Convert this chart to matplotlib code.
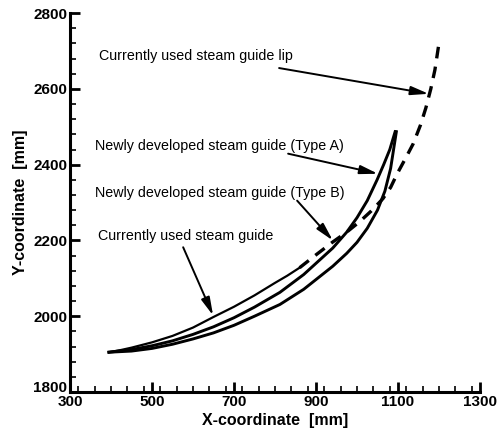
import matplotlib
matplotlib.use("Agg")
import matplotlib.pyplot as plt
from matplotlib.ticker import MultipleLocator, FixedLocator

plt.rcParams['font.family'] = ['Liberation Sans', 'DejaVu Sans']

# currently used steam guide (solid)
cur_x = [395, 425, 450, 475, 500, 550, 600, 650, 700, 750, 800, 830, 860]
cur_y = [1905, 1911, 1917, 1924, 1931, 1948, 1970, 1998, 2025, 2055, 2088, 2107, 2128]

# currently used steam guide lip (dashed)
lip_x = [860, 900, 941, 975, 1007, 1035, 1063, 1082, 1098, 1120, 1137, 1155, 1168, 1180, 1190, 1200]
lip_y = [2128, 2162, 2196, 2222, 2250, 2278, 2310, 2340, 2376, 2420, 2455, 2505, 2550, 2600, 2650, 2721]

# newly developed guide, type A (upper contour)
a_x = [395, 450, 500, 550, 600, 650, 700, 750, 812, 870, 941, 975, 1000, 1025, 1049, 1065, 1080, 1093]
a_y = [1905, 1912, 1922, 1935, 1952, 1972, 1996, 2024, 2063, 2110, 2180, 2222, 2260, 2305, 2360, 2400, 2440, 2487]

# newly developed guide, type B (lower contour)
b_x = [395, 450, 500, 550, 600, 650, 700, 750, 812, 870, 941, 975, 1000, 1025, 1050, 1068, 1082, 1096]
b_y = [1905, 1908, 1915, 1926, 1940, 1956, 1976, 2000, 2031, 2071, 2132, 2166, 2195, 2232, 2280, 2330, 2390, 2487]

# tick labels
x_ticks = [300, 500, 700, 900, 1100, 1300]
y_ticks = [1800, 2000, 2200, 2400, 2600, 2800]

fig = plt.figure(figsize=(5.0, 4.37), dpi=100)
ax = fig.add_axes([0.14, 0.103, 0.82, 0.867])

ax.plot(cur_x, cur_y, color='black', lw=1.6)
ax.plot(lip_x, lip_y, color='black', lw=2.4, dashes=(3.5, 2.5))
ax.plot(a_x, a_y, color='black', lw=2.1)
ax.plot(b_x, b_y, color='black', lw=2.1)

# annotations: text, text position, arrow tail, arrow head
notes = [
    ("Currently used steam guide lip", (371, 2687), (810, 2655), (1175, 2587)),
    ("Newly developed steam guide (Type A)", (361, 2450), (832, 2429), (1051, 2376)),
    ("Newly developed steam guide (Type B)", (361, 2324), (854, 2305), (941, 2200)),
    ("Currently used steam guide", (368, 2213), (576, 2182), (649, 2002)),
]
for txt, tpos, tail, head in notes:
    ax.text(tpos[0], tpos[1], txt, fontsize=10.3, va='center', ha='left')
    ax.annotate("", xy=head, xytext=tail,
                arrowprops=dict(arrowstyle='-|>,head_width=0.22,head_length=0.9',
                                color='black', lw=1.4,
                                mutation_scale=12, shrinkA=0, shrinkB=0))

ax.set_xlim(300, 1300)
ax.set_ylim(1800, 2800)
ax.xaxis.set_major_locator(FixedLocator(x_ticks))
ax.xaxis.set_minor_locator(MultipleLocator(40))
ax.yaxis.set_major_locator(FixedLocator(y_ticks))
ax.yaxis.set_minor_locator(MultipleLocator(40))

for s in ['top', 'right']:
    ax.spines[s].set_visible(False)
for s in ['left', 'bottom']:
    ax.spines[s].set_linewidth(2.2)

ax.tick_params(which='major', direction='in', length=7, width=2, labelsize=11, pad=2)
ax.tick_params(which='minor', direction='in', length=4, width=1.2)
for lab in ax.get_xticklabels() + ax.get_yticklabels():
    lab.set_fontweight('bold')
# the lowest y label sits on its tick, above the "300" label
ax.yaxis.get_major_ticks()[0].label1.set_va('baseline')

ax.set_xlabel('X-coordinate  [mm]', fontsize=11.5, fontweight='bold', labelpad=3)
ax.set_ylabel('Y-coordinate  [mm]', fontsize=11.5, fontweight='bold', labelpad=4)

fig.savefig('out.png', dpi=100)
